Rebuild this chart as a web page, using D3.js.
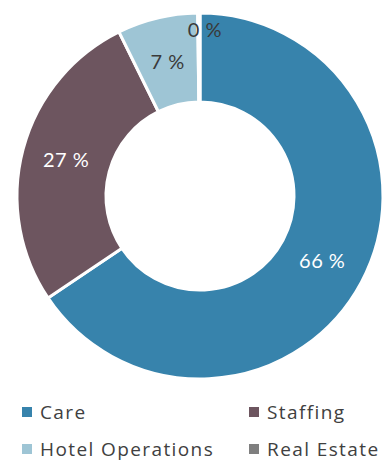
<!DOCTYPE html>
<html>
<head>
<meta charset="utf-8">
<script src="https://cdn.jsdelivr.net/npm/d3@7"></script>
<style>
  body { margin: 0; background: #fff; }
  svg { display: block; font-family: Lato, "Open Sans", sans-serif; }
</style>
</head>
<body>
<svg id="chart" width="387" height="461"></svg>
<script>
const categories = ['Care', 'Staffing', 'Hotel Operations', 'Real Estate'];
const shares = [65.6, 27.1, 7.1, 0.2];
const colors = ['#3783ac', '#6d555f', '#9ec5d5', '#7f7f7f'];
const labelColors = ['#ffffff', '#ffffff', '#3a3a3a', '#3a3a3a'];

const width = 387;
const height = 461;
const cx = 200;
const cy = 196;
const outerRadius = 183;
const innerRadius = 94;

const svg = d3.select('#chart');

const pie = d3.pie()
  .sort(null)
  .value(d => d.value);

const data = categories.map((name, i) => ({ name, value: shares[i], i }));
const arcs = pie(data);

const arc = d3.arc()
  .innerRadius(innerRadius)
  .outerRadius(outerRadius);

// small slices get their label pushed out toward the rim
const labelArc = d3.arc()
  .innerRadius(outerRadius - 17)
  .outerRadius(outerRadius - 17);

const g = svg.append('g')
  .attr('transform', `translate(${cx},${cy})`);

g.selectAll('path.slice')
  .data(arcs)
  .enter().append('path')
    .classed('slice', true)
    .attr('d', arc)
    .attr('fill', d => colors[d.data.i])
    .attr('stroke', '#fff')
    .attr('stroke-width', 3)
    .attr('stroke-linejoin', 'miter');

g.selectAll('text.pct')
  .data(arcs)
  .enter().append('text')
    .classed('pct', true)
    .attr('transform', d => {
      const p = d.data.value < 1 ? labelArc.centroid(d) : arc.centroid(d);
      return `translate(${p[0] + (d.data.value < 1 ? 6 : 0)},${p[1]})`;
    })
    .attr('text-anchor', 'middle')
    .attr('dy', '0.36em')
    .attr('fill', d => labelColors[d.data.i])
    .style('font-size', '20px')
    .style('letter-spacing', '0.5px')
    .text(d => `${Math.round(d.data.value)} %`);

// legend, two columns
const legendX = d3.scalePoint()
  .domain([0, 1])
  .range([22, 249]);
const legendY = d3.scalePoint()
  .domain([0, 1])
  .range([412, 449]);

const legend = svg.append('g')
  .selectAll('g.item')
  .data(categories)
  .enter().append('g')
    .classed('item', true)
    .attr('transform', (d, i) => `translate(${legendX(i % 2)},${legendY(Math.floor(i / 2))})`);

legend.append('rect')
  .attr('x', 0)
  .attr('y', -5)
  .attr('width', 10)
  .attr('height', 10)
  .attr('fill', (d, i) => colors[i]);

legend.append('text')
  .attr('x', 18)
  .attr('dy', '0.36em')
  .attr('fill', '#404040')
  .style('font-family', '"Open Sans", sans-serif')
  .style('font-size', '19px')
  .style('letter-spacing', '1.4px')
  .text(d => d);
</script>
</body>
</html>
